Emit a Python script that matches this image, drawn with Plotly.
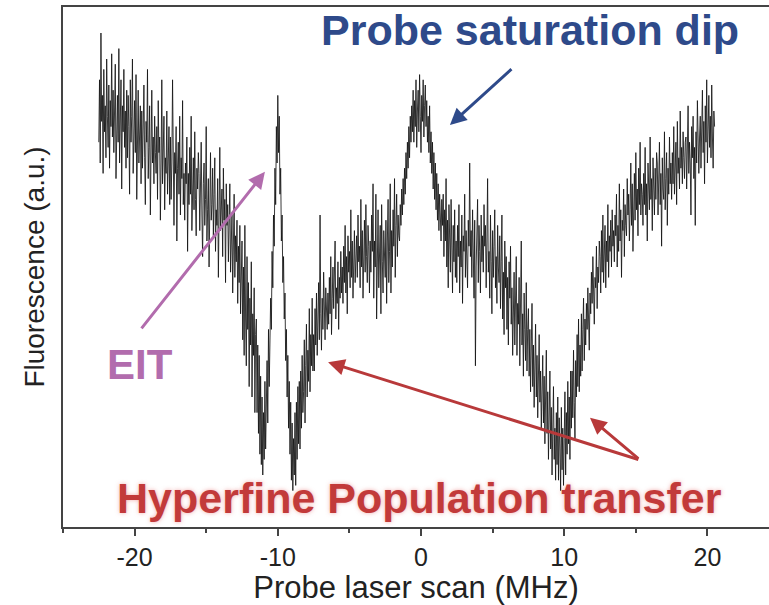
import numpy as np
import plotly.graph_objects as go

# Fluorescence trace sampled every 0.05 MHz from -22.5 to 20.5 MHz (arbitrary units);
# each row covers 1 MHz of the scan.
fluorescence = [
    74, 86, 70, 95, 78, 83, 68, 88, 76, 81, 71, 90, 79, 73, 85, 69, 82, 77, 91, 75,
    84, 72, 80, 89, 67, 77, 83, 74, 92, 70, 79, 86, 65, 81, 76, 88, 73, 80, 69, 84,
    71, 83, 77, 64, 86, 74, 79, 90, 68, 76, 82, 72, 87, 63, 78, 84, 70, 75, 81, 66,
    80, 69, 76, 85, 71, 62, 78, 74, 88, 67, 73, 81, 60, 77, 84, 70, 75, 66, 79, 72,
    68, 77, 63, 82, 72, 75, 59, 70, 86, 66, 74, 79, 61, 71, 68, 80, 64, 73, 77, 62,
    75, 63, 70, 86, 66, 58, 72, 68, 77, 55, 69, 74, 64, 79, 60, 71, 67, 82, 62, 68,
    59, 70, 66, 75, 53, 68, 62, 73, 64, 79, 57, 67, 71, 61, 76, 63, 56, 69, 65, 72,
    68, 57, 64, 74, 60, 52, 66, 70, 58, 63, 77, 55, 61, 67, 50, 65, 72, 59, 62, 69,
    56, 64, 71, 53, 61, 58, 67, 48, 62, 73, 57, 60, 65, 52, 69, 59, 63, 47, 66, 58,
    62, 51, 57, 66, 49, 55, 60, 45, 53, 64, 48, 56, 51, 59, 43, 54, 47, 58, 41, 50,
    55, 36, 50, 33, 58, 40, 31, 52, 38, 47, 27, 44, 35, 51, 25, 41, 33, 46, 22, 37,
    40, 22, 35, 18, 33, 14, 29, 12, 25, 10, 22, 13, 28, 15, 24, 32, 20, 38, 27, 42,
    44, 38, 53, 46, 60, 54, 69, 62, 77, 70, 83, 72, 79, 64, 69, 55, 60, 47, 52, 40,
    45, 32, 38, 25, 33, 19, 28, 14, 24, 9, 20, 7, 17, 10, 22, 8, 24, 13, 27, 16,
    28, 15, 30, 19, 33, 22, 26, 36, 20, 31, 39, 25, 34, 28, 42, 26, 37, 31, 44, 30,
    37, 30, 42, 35, 45, 33, 39, 47, 36, 60, 41, 34, 44, 38, 49, 40, 36, 46, 42, 38,
    45, 39, 48, 41, 52, 37, 44, 50, 42, 47, 55, 40, 46, 43, 51, 38, 48, 44, 53, 45,
    50, 43, 54, 47, 58, 45, 52, 41, 56, 49, 53, 46, 61, 48, 55, 44, 51, 57, 47, 53,
    56, 48, 60, 51, 54, 46, 63, 50, 57, 44, 53, 59, 49, 62, 52, 47, 58, 54, 45, 55,
    49, 60, 53, 66, 44, 55, 50, 64, 40, 54, 61, 46, 52, 58, 41, 62, 51, 45, 57, 53,
    48, 59, 43, 55, 63, 47, 53, 66, 45, 57, 50, 61, 54, 67, 48, 58, 64, 52, 60, 56,
    55, 62, 58, 65, 60, 67, 62, 69, 64, 72, 67, 74, 69, 77, 71, 79, 74, 81, 76, 84,
    74, 82, 77, 86, 73, 80, 84, 76, 87, 79, 72, 83, 78, 86, 75, 81, 85, 77, 82, 74,
    79, 72, 81, 70, 76, 68, 74, 65, 72, 63, 70, 61, 68, 59, 66, 57, 64, 60, 55, 63,
    58, 64, 52, 61, 55, 67, 50, 59, 46, 62, 54, 49, 63, 56, 45, 58, 51, 61, 48, 55,
    47, 58, 52, 62, 45, 55, 50, 60, 43, 56, 53, 64, 48, 57, 51, 46, 59, 54, 70, 52,
    57, 48, 61, 52, 44, 59, 31, 50, 55, 63, 47, 58, 53, 45, 60, 51, 56, 49, 62, 54,
    58, 46, 55, 67, 49, 53, 44, 60, 51, 41, 57, 48, 54, 61, 46, 52, 43, 58, 50, 47,
    56, 42, 51, 60, 40, 49, 37, 55, 46, 52, 38, 48, 35, 51, 44, 54, 39, 46, 33, 45,
    49, 35, 45, 52, 33, 43, 39, 48, 31, 42, 55, 35, 41, 29, 45, 38, 32, 47, 30, 38,
    42, 29, 38, 26, 36, 43, 27, 35, 23, 34, 39, 25, 33, 21, 31, 37, 24, 30, 19, 29,
    33, 20, 29, 16, 27, 34, 18, 26, 13, 24, 30, 15, 23, 10, 21, 27, 13, 19, 9, 22,
    12, 25, 9, 21, 15, 7, 23, 11, 19, 8, 17, 26, 10, 22, 14, 28, 16, 25, 13, 30,
    19, 30, 21, 34, 24, 17, 32, 25, 37, 27, 40, 26, 35, 29, 41, 30, 38, 44, 32, 40,
    35, 43, 38, 46, 40, 34, 45, 41, 49, 43, 52, 44, 39, 48, 46, 54, 42, 50, 47, 55,
    52, 45, 57, 49, 60, 47, 54, 58, 46, 55, 51, 62, 48, 56, 53, 59, 50, 61, 54, 57,
    51, 60, 56, 64, 50, 58, 53, 66, 55, 61, 48, 59, 57, 65, 52, 62, 58, 56, 67, 60,
    64, 55, 61, 70, 58, 66, 53, 63, 68, 59, 72, 61, 65, 56, 69, 62, 74, 60, 66, 64,
    58, 68, 62, 73, 60, 66, 55, 70, 64, 61, 75, 63, 67, 57, 71, 65, 60, 69, 63, 72,
    70, 60, 66, 74, 62, 68, 54, 71, 65, 63, 76, 61, 67, 72, 58, 69, 64, 75, 66, 70,
    63, 72, 66, 77, 64, 70, 74, 62, 78, 68, 71, 65, 80, 69, 73, 66, 76, 71, 67, 74,
    75, 65, 72, 81, 68, 74, 70, 60, 77, 71, 79, 67, 73, 58, 76, 70, 82, 72, 68, 75,
    79, 69, 76, 84, 72, 78, 66, 81, 74, 86, 70, 77, 83, 73, 79, 71, 85, 75, 69, 80,
    77,
]
scan_start, scan_stop = -22.5, 20.5
detuning = np.linspace(scan_start, scan_stop, len(fluorescence))

x_ticks = [-20, -10, 0, 10, 20]
x_tick_labels = ["-20", "-10", "0", "10", "20"]

FONT = "Liberation Sans, Arial, Helvetica, sans-serif"
BLUE = "#2e4a8a"
PURPLE = "#b26cad"
RED = "#c23a3a"
ARROW_RED = "#b8393a"

fig = go.Figure()
fig.add_trace(go.Scatter(
    x=detuning, y=fluorescence, mode="lines",
    line=dict(color="#141414", width=0.85),
    showlegend=False, hoverinfo="skip",
))

def arrow(tail, head, color, width=3):
    fig.add_annotation(
        x=head[0], y=head[1], ax=tail[0], ay=tail[1],
        xref="x", yref="y", axref="x", ayref="y",
        showarrow=True, arrowhead=2, arrowsize=1.1, arrowwidth=width,
        arrowcolor=color, text="",
    )

# Feature labels
fig.add_annotation(x=7.6, y=95.6, xref="x", yref="y", text="<b>Probe saturation dip</b>",
                   showarrow=False, font=dict(family=FONT, size=43, color=BLUE))
fig.add_annotation(x=-19.6, y=31.3, xref="x", yref="y", text="<b>EIT</b>",
                   showarrow=False, font=dict(family=FONT, size=42, color=PURPLE))
fig.add_annotation(x=-0.1, y=5.6, xref="x", yref="y", text="<b>Hyperfine Population transfer</b>",
                   showarrow=False,
                   font=dict(family=FONT, size=43, color=RED,
                             shadow="0px 0px 4px rgba(230,90,90,0.5)"))

# Arrows pointing at the spectral features
arrow((6.42, 88.3), (2.02, 77.3), BLUE)
arrow((-19.6, 37.9), (-10.9, 68.3), PURPLE)
arrow((15.28, 12.9), (-6.49, 31.7), ARROW_RED)
arrow((15.28, 12.9), (11.8, 21.0), ARROW_RED)

fig.update_layout(
    width=769, height=605,
    margin=dict(l=63, r=0, t=7, b=78),
    paper_bgcolor="white", plot_bgcolor="white",
    font=dict(family=FONT, color="#222222"),
    xaxis=dict(
        range=[-25, 24.3], tickvals=x_ticks, ticktext=x_tick_labels,
        ticks="outside", ticklen=7, tickwidth=1.5, tickcolor="#444444",
        tickfont=dict(size=25, color="#222222"),
        minor=dict(dtick=5, tick0=-25, ticks="outside", ticklen=4, tickwidth=1.5, tickcolor="#444444"),
        showline=True, linecolor="#444444", linewidth=2, mirror=True,
        showgrid=False, zeroline=False,
        title=dict(text="Probe laser scan (MHz)", font=dict(size=31, color="#222222"), standoff=5),
    ),
    yaxis=dict(
        range=[0, 100], showticklabels=False, ticks="",
        showline=True, linecolor="#444444", linewidth=2, mirror=False,
        showgrid=False, zeroline=False,
        title=dict(text="Fluorescence (a.u.)", font=dict(size=28, color="#222222"), standoff=8),
    ),
)

fig.write_html("out.html")
